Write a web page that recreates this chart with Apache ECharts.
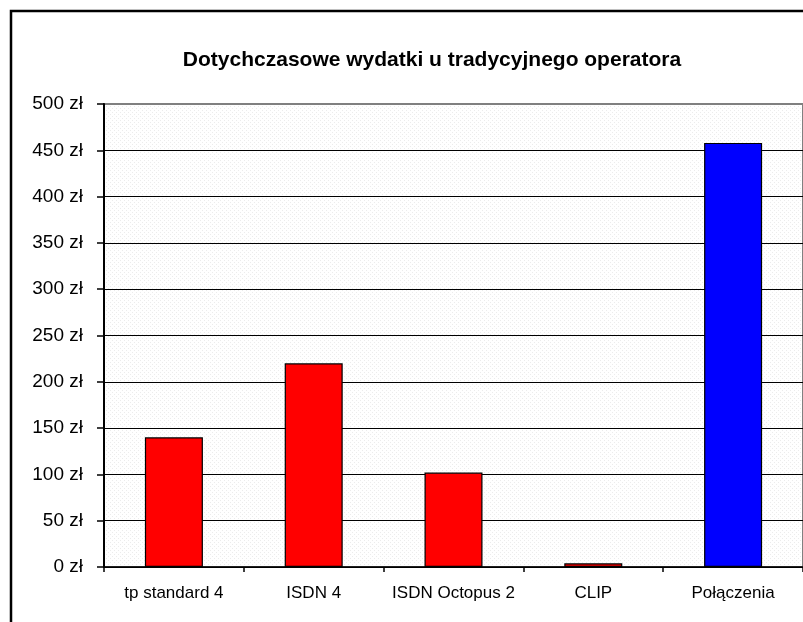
<!DOCTYPE html>
<html>
<head>
<meta charset="utf-8">
<script src="https://cdn.jsdelivr.net/npm/echarts@6/dist/echarts.min.js"></script>
<style>
  html, body { margin: 0; padding: 0; background: #fff; }
  #chart { width: 803px; height: 622px; }
</style>
</head>
<body>
<div id="chart"></div>
<script>
  // dane z wykresu
  const categories = ['tp standard 4', 'ISDN 4', 'ISDN Octopus 2', 'CLIP', 'Połączenia'];
  const values = [140, 220, 102, 4, 458];
  const barColors = ['#ff0000', '#ff0000', '#ff0000', '#ff0000', '#0000ff'];
  const yTicks = [0, 50, 100, 150, 200, 250, 300, 350, 400, 450, 500];

  // kropkowane tło obszaru wykresu
  const makeDots = () => {
    const c = document.createElement('canvas');
    c.width = 4;
    c.height = 4;
    const ctx = c.getContext('2d');
    ctx.fillStyle = '#ffffff';
    ctx.fillRect(0, 0, 4, 4);
    ctx.fillStyle = '#ececec';
    ctx.fillRect(0, 0, 1, 1);
    ctx.fillRect(2, 2, 1, 1);
    return c;
  };

  // linie siatki czarne, górna krawędź szara
  const splitColors = yTicks.map((t, i) => (i === yTicks.length - 1 ? '#808080' : '#000'));

  const myChart = echarts.init(document.getElementById('chart'));

  const option = {
    animation: false,
    graphic: [
      {
        type: 'rect',
        shape: { x: 11, y: 11, width: 900, height: 700 },
        style: { fill: 'none', stroke: '#000', lineWidth: 2.5 },
        z: 100
      },
      {
        type: 'text',
        x: 432,
        y: 60,
        style: {
          text: 'Dotychczasowe wydatki u tradycyjnego operatora',
          font: 'bold 21px "Liberation Sans", Arial, sans-serif',
          fill: '#000',
          align: 'center',
          verticalAlign: 'middle'
        }
      }
    ],
    grid: {
      left: 104,
      top: 104,
      right: -7,
      bottom: 55,
      show: true,
      backgroundColor: { image: makeDots(), repeat: 'repeat' },
      borderColor: '#808080',
      borderWidth: 2
    },
    xAxis: {
      type: 'category',
      data: categories,
      axisLine: { lineStyle: { color: '#000', width: 1.5 } },
      axisTick: { show: true, interval: 0, length: 5, lineStyle: { color: '#000', width: 1.5 } },
      axisLabel: {
        interval: 0,
        margin: 18,
        color: '#000',
        fontSize: 17,
        fontFamily: '"Liberation Sans", Arial, sans-serif'
      }
    },
    yAxis: {
      type: 'value',
      min: yTicks[0],
      max: yTicks[yTicks.length - 1],
      interval: 50,
      axisLine: { show: true, lineStyle: { color: '#000', width: 2 } },
      axisTick: { show: true, length: 7, lineStyle: { color: '#000', width: 1.5 } },
      axisLabel: {
        margin: 21,
        color: '#000',
        fontSize: 19,
        fontFamily: '"Liberation Sans", Arial, sans-serif',
        formatter: '{value} zł'
      },
      splitLine: { show: true, lineStyle: { color: splitColors, width: 1.2 } }
    },
    series: [{
      type: 'bar',
      barWidth: 58,
      data: values.map((v, i) => ({
        value: v,
        itemStyle: { color: barColors[i], borderColor: '#000', borderWidth: 1.2 }
      }))
    }]
  };

  myChart.setOption(option);
</script>
</body>
</html>
